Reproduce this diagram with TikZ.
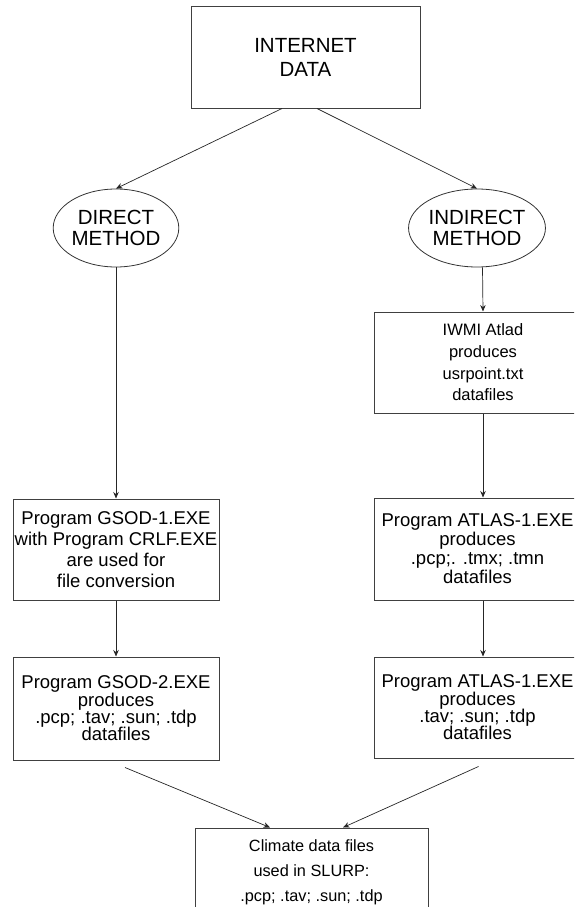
\documentclass[tikz,border=0pt]{standalone}
\usepackage{fontspec}
\setmainfont{Liberation Sans}
\usepackage{tikz}
\usetikzlibrary{shapes.geometric, arrows.meta}
\newcommand{\fs}[2]{\fontsize{#1}{#2}\selectfont}

\begin{document}
\begin{tikzpicture}[x=1pt, y=-1pt,
    box/.style={draw=black!75, line width=1pt, rectangle, align=center,
                inner sep=1pt, minimum width=206pt, minimum height=101pt},
    oval/.style={draw=black!80, line width=0.8pt, ellipse, align=center,
                 inner sep=0pt, minimum width=124pt, minimum height=78pt,
                 font=\fs{20.5}{21}},
    link/.style={draw=black!85, line width=0.7pt,
                 -{Stealth[length=6.5pt, width=5.5pt]}}]
    % Page frame
    \useasboundingbox (0,0) rectangle (574,907);
    \clip (0,0) rectangle (574,907);

    % Source
    \node[box, minimum width=229pt, font=\fs{20.5}{24}] (internet) at (305.5,57.5)
        {INTERNET\\DATA};

    % The two methods
    \node[oval] (direct) at (116,228) {DIRECT\\METHOD};
    \node[oval] (indirect) at (477,228) {INDIRECT\\METHOD};

    % Left branch
    \node[box, font=\fs{18.5}{21}] (gsodone) at (116,549.5)
        {Program GSOD-1.EXE\\with Program CRLF.EXE\\are used for\\file conversion};
    \node[box, minimum height=103pt, font=\fs{18.5}{17.4}] (gsodtwo) at (116,708.5)
        {Program GSOD-2.EXE\\produces\\.pcp; .tav; .sun; .tdp\\datafiles};

    % Right branch (runs off the page edge)
    \node[box, minimum width=218pt, font=\fs{16.5}{21.7}] (atlad) at (483,362.5)
        {IWMI Atlad\\produces\\usrpoint.txt\\datafiles};
    \node[box, minimum width=207pt, minimum height=102pt, font=\fs{18.5}{19}] (atlasone) at (477.5,549)
        {Program ATLAS-1.EXE\\produces\\.pcp;. .tmx; .tmn\\datafiles};
    \node[box, minimum width=207pt, font=\fs{18.5}{17.4}] (atlastwo) at (477.5,707.5)
        {Program ATLAS-1.EXE\\produces\\.tav; .sun; .tdp\\datafiles};

    % Result (bottom runs off the page)
    \node[box, minimum width=233pt, minimum height=88pt, font=\fs{16.3}{25}] (slurp) at (311.5,872)
        {Climate data files\\used in SLURP:\\.pcp; .tav; .sun; .tdp};

    % Connectors
    \draw[link] ([xshift=-23.5pt]internet.south) -- (direct.north);
    \draw[link] ([xshift=11.5pt]internet.south) -- (indirect.north);
    \draw[link] (direct.south) -- (gsodone.north);
    \draw[link] (gsodone.south) -- (gsodtwo.north);
    \draw[link] ([xshift=5.5pt]indirect.south) -- (atlad.north);
    \draw[link] (atlad.south) -- ([xshift=5.5pt]atlasone.north);
    \draw[link] ([xshift=5.5pt]atlasone.south) -- ([xshift=5.5pt]atlastwo.north);
    \draw[link] ([shift={(9pt,-7pt)}]gsodtwo.south) -- ([xshift=-41.5pt]slurp.north);
    \draw[link] ([shift={(1pt,-8pt)}]atlastwo.south) -- ([xshift=31.5pt]slurp.north);
\end{tikzpicture}
\end{document}
